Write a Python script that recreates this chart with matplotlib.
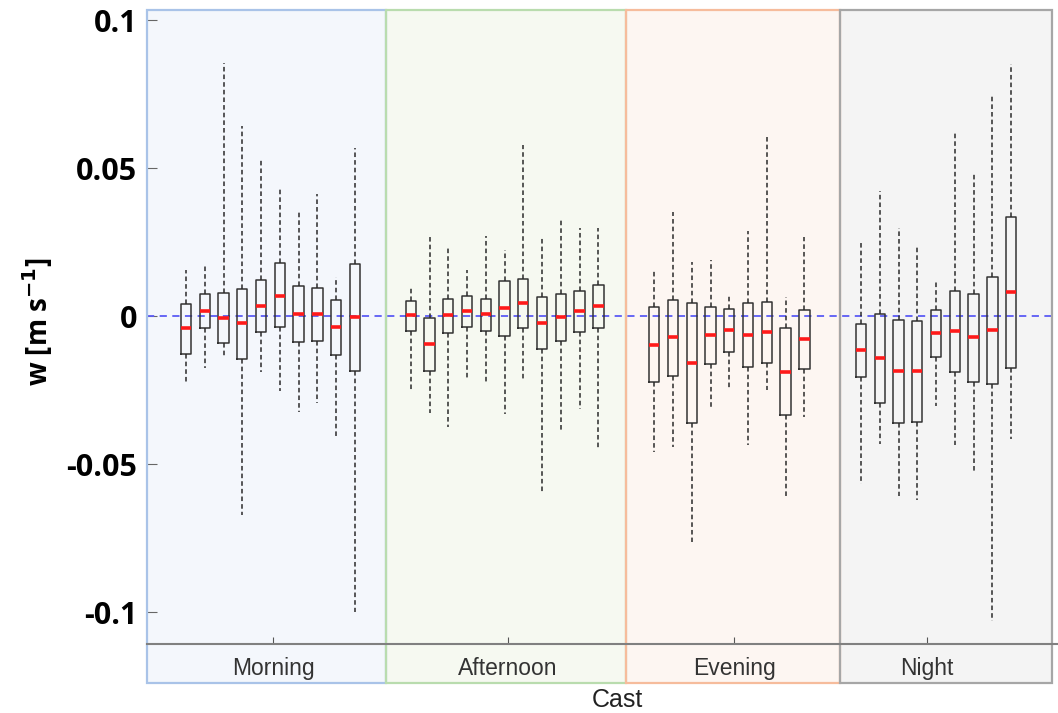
import numpy as np
import matplotlib
matplotlib.use("Agg")
import matplotlib.pyplot as plt
from matplotlib.patches import Rectangle
from matplotlib.transforms import blended_transform_factory


GROUPS = ["Morning", "Afternoon", "Evening", "Night"]

# whisker low, q1, median, q3, whisker high for every cast, per period
morning_lo = [-0.0223, -0.0174, -0.0143, -0.0672, -0.0189, -0.0254, -0.0323, -0.0294, -0.0408, -0.1000]
morning_q1 = [-0.0128, -0.0042, -0.0091, -0.0146, -0.0054, -0.0038, -0.0088, -0.0083, -0.0131, -0.0185]
morning_med = [-0.0042, 0.0018, -0.0006, -0.0025, 0.0035, 0.0069, 0.0008, 0.0008, -0.0037, -0.0003]
morning_q3 = [0.0042, 0.0074, 0.0077, 0.0092, 0.0122, 0.0180, 0.0102, 0.0095, 0.0055, 0.0177]
morning_hi = [0.0154, 0.0177, 0.0854, 0.0642, 0.0535, 0.0431, 0.0352, 0.0414, 0.0131, 0.0568]

afternoon_lo = [-0.0254, -0.0326, -0.0374, -0.0214, -0.0225, -0.0332, -0.0211, -0.0597, -0.0392, -0.0315, -0.0452]
afternoon_q1 = [-0.0049, -0.0185, -0.0058, -0.0038, -0.0051, -0.0069, -0.0040, -0.0111, -0.0083, -0.0055, -0.0040]
afternoon_med = [0.0003, -0.0094, 0.0003, 0.0017, 0.0006, 0.0026, 0.0045, -0.0022, -0.0003, 0.0017, 0.0034]
afternoon_q3 = [0.0051, -0.0005, 0.0058, 0.0069, 0.0057, 0.0120, 0.0126, 0.0065, 0.0075, 0.0086, 0.0105]
afternoon_hi = [0.0100, 0.0271, 0.0231, 0.0154, 0.0271, 0.0223, 0.0577, 0.0271, 0.0325, 0.0298, 0.0297]

evening_lo = [-0.0458, -0.0442, -0.0762, -0.0311, -0.0243, -0.0434, -0.0251, -0.0615, -0.0342]
evening_q1 = [-0.0223, -0.0202, -0.0362, -0.0162, -0.0123, -0.0171, -0.0157, -0.0335, -0.0178]
evening_med = [-0.0097, -0.0072, -0.0158, -0.0065, -0.0048, -0.0063, -0.0055, -0.0188, -0.0077]
evening_q3 = [0.0029, 0.0055, 0.0043, 0.0029, 0.0025, 0.0045, 0.0046, -0.0040, 0.0022]
evening_hi = [0.0154, 0.0351, 0.0183, 0.0189, 0.0069, 0.0288, 0.0605, 0.0066, 0.0268]

night_lo = [-0.0569, -0.0431, -0.0608, -0.0623, -0.0305, -0.0435, -0.0523, -0.1031, -0.0415]
night_q1 = [-0.0205, -0.0294, -0.0362, -0.0358, -0.0138, -0.0189, -0.0223, -0.0228, -0.0174]
night_med = [-0.0115, -0.0143, -0.0185, -0.0186, -0.0057, -0.0052, -0.0072, -0.0048, 0.0082]
night_q3 = [-0.0028, 0.0008, -0.0012, -0.0017, 0.0020, 0.0083, 0.0075, 0.0131, 0.0334]
night_hi = [0.0254, 0.0423, 0.0297, 0.0232, 0.0118, 0.0620, 0.0483, 0.0749, 0.0851]

YTICKS = [-0.1, -0.05, 0, 0.05, 0.1]
YTICK_LABELS = ["-0.1", "-0.05", "0", "0.05", "0.1"]

# layout (x in units of box spacing)
GROUP_START = [2.08, 14.06, 27.04, 38.06]
PANEL_EDGES = [0, 12.74, 25.53, 36.94, 48.24]
LABEL_X = [6.72, 19.24, 31.31, 41.58]
FACE = ["#f4f7fc", "#f6f9f1", "#fdf6f2", "#f4f4f4"]
EDGE = ["#a9c3e8", "#b9dcae", "#f6bc9c", "#a6a6a6"]


def make_stats(lo, q1, med, q3, hi):
    return [dict(whislo=a, q1=b, med=c, q3=d, whishi=e, fliers=[])
            for a, b, c, d, e in zip(lo, q1, med, q3, hi)]


def main():
    W, H = 1058, 713
    fig = plt.figure(figsize=(W / 100, H / 100), dpi=100)
    fig.patch.set_facecolor("white")
    left, right, top, bottom = 147, 1052, 10, 644
    ax = fig.add_axes([left / W, (H - bottom) / H, (right - left) / W, (bottom - top) / H])
    ax.set_facecolor("none")
    ax.set_xlim(PANEL_EDGES[0], PANEL_EDGES[-1])
    ax.set_ylim(-0.1108, 0.1034)

    strip = -(683 - bottom) / (bottom - top)
    trans = blended_transform_factory(ax.transData, ax.transAxes)
    for i in range(4):
        x0, x1 = PANEL_EDGES[i], PANEL_EDGES[i + 1]
        ax.add_patch(Rectangle((x0, strip), x1 - x0, 1 - strip, transform=trans,
                               facecolor=FACE[i], edgecolor="none", zorder=0, clip_on=False))
    for i in range(4):
        x0, x1 = PANEL_EDGES[i], PANEL_EDGES[i + 1]
        ax.add_patch(Rectangle((x0, strip), x1 - x0, 1 - strip, transform=trans,
                               facecolor="none", edgecolor=EDGE[i], lw=1.6, zorder=6, clip_on=False))
        ax.text(LABEL_X[i], -0.038, GROUPS[i], transform=trans, ha="center", va="center",
                fontsize=16.5, color="#333333", family="Liberation Sans")

    ax.plot([0, (W - left) / (right - left)], [0, 0], transform=ax.transAxes,
            color="#808080", lw=1.5, clip_on=False, zorder=7)

    ax.axhline(0, color="#5b5bf5", ls=(0, (4, 3)), lw=1.3, zorder=2)

    data = [
        (morning_lo, morning_q1, morning_med, morning_q3, morning_hi),
        (afternoon_lo, afternoon_q1, afternoon_med, afternoon_q3, afternoon_hi),
        (evening_lo, evening_q1, evening_med, evening_q3, evening_hi),
        (night_lo, night_q1, night_med, night_q3, night_hi),
    ]
    for g, arrays in enumerate(data):
        stats = make_stats(*arrays)
        pos = GROUP_START[g] + np.arange(len(stats))
        ax.bxp(stats, positions=pos, widths=0.55, showcaps=False, showfliers=False,
               manage_ticks=False,
               boxprops=dict(color="#333333", lw=1.1),
               whiskerprops=dict(color="#2a2a2a", lw=1.1, ls=(0, (3, 2))),
               medianprops=dict(color="#ff1a1a", lw=2.6, solid_capstyle="butt"))

    for s in ax.spines.values():
        s.set_visible(False)
    ax.set_yticks(YTICKS)
    ax.set_yticklabels(YTICK_LABELS, fontsize=22, fontweight="bold", family="Open Sans")
    ax.tick_params(axis="y", direction="in", length=7, color="#666666", pad=7)
    ax.set_xticks(LABEL_X)
    ax.set_xticklabels([])
    ax.tick_params(axis="x", direction="in", length=5, color="#555555")

    fig.text(38 / W, (H - 322) / H, r"w [m s$^{\mathbf{-1}}$]", rotation=90, ha="center",
             va="center", fontsize=20, fontweight="bold", family="Open Sans")
    fig.text(617 / W, (H - 700) / H, "Cast", ha="center", va="center", fontsize=18,
             color="#222222", family="Liberation Sans")

    fig.savefig("out.png", dpi=100)
    plt.close(fig)


if __name__ == "__main__":
    main()
